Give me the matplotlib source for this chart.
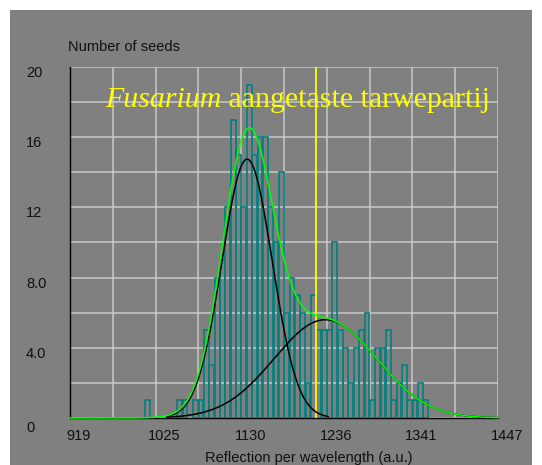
import numpy as np
import matplotlib
matplotlib.use("Agg")
import matplotlib.pyplot as plt
from matplotlib.patches import Rectangle
from matplotlib.transforms import blended_transform_factory, ScaledTranslation

# ---------------- data ----------------
x_min, x_max = 919, 1447
n_bins = 80
# counts per bin (bin index -> count)
bin_index = [14, 20, 21, 23, 24, 25, 26, 27, 28, 29, 30, 31, 32, 33, 34, 35, 36,
             37, 38, 39, 40, 41, 42, 43, 44, 45, 46, 47, 48, 49, 50, 51, 52, 53,
             54, 55, 56, 57, 58, 59, 60, 61, 62, 63, 64, 65, 66]
bin_count = [1, 1, 1, 1, 1, 5, 3, 8, 9, 12, 17, 15, 12, 19, 15, 16, 16,
             12, 10, 14, 6, 8, 7, 6, 2, 7, 5, 5, 5, 10, 5, 4, 2, 4,
             5, 6, 1, 4, 4, 5, 1, 2, 3, 1, 1, 2, 1]

# two fitted gaussian components
fit_amplitude = [14.75, 5.6]
fit_mean = [1137.5, 1234.0]
fit_sigma = [31.0, 63.0]
fit_start = [1038.0, 1038.0]
fit_end = [1238.0, 1447.0]

marker_x = 1222.5

x_tick_values = [919, 1024.6, 1130.2, 1235.8, 1341.4, 1447]
x_tick_labels = ["919", "1025", "1130", "1236", "1341", "1447"]
y_tick_values = [0, 4, 8, 12, 16, 20]
y_tick_labels = ["0", "4.0", "8.0", "12", "16", "20"]

title_italic = "Fusarium"
title_rest = " aangetaste tarwepartij"
y_title = "Number of seeds"
x_title = "Reflection per wavelength (a.u.)"

# ---------------- figure ----------------
W, H = 542, 465
DPI = 100
fig = plt.figure(figsize=(W / DPI, H / DPI), dpi=DPI, facecolor="white")
gray = "#808080"
fig.patches.append(Rectangle((10 / W, 0), (W - 20) / W, (H - 10) / H,
                             transform=fig.transFigure, facecolor=gray,
                             edgecolor="none", zorder=-10))

left, right, top, bottom = 70, 498, 67, 418
ax = fig.add_axes([left / W, 1 - bottom / H, (right - left) / W, (bottom - top) / H])
ax.set_facecolor(gray)
ax.set_xlim(x_min, x_max)
ax.set_ylim(0, 20)

bw = (x_max - x_min) / n_bins
ax.set_xticks(np.linspace(x_min, x_max, 11))
ax.set_yticks(np.arange(0, 21, 2))
ax.tick_params(length=0, labelbottom=False, labelleft=False)
ax.grid(True, color="#c8c8c8", linewidth=1.1)
ax.set_axisbelow(True)
for s in ["top", "right"]:
    ax.spines[s].set_visible(False)
for s in ["left", "bottom"]:
    ax.spines[s].set_color("black")
    ax.spines[s].set_linewidth(1.0)
    ax.spines[s].set_zorder(1.5)

# bars
lefts = [x_min + i * bw for i in bin_index]
ax.bar([l + bw * 0.05 for l in lefts], bin_count, width=bw * 0.9, align="edge",
       fill=False, edgecolor="#008080", linewidth=1.2, zorder=2)

# yellow marker line
ax.axvline(marker_x, color="#ffff00", linewidth=1.3, zorder=3)

# fitted curves
xs_full = np.linspace(x_min, x_max, 800)
total = np.zeros_like(xs_full)
for A, m, s, a, b in zip(fit_amplitude, fit_mean, fit_sigma, fit_start, fit_end):
    y = A * np.exp(-0.5 * ((xs_full - m) / s) ** 2)
    total += y
    sel = (xs_full >= a) & (xs_full <= b)
    ax.plot(xs_full[sel], y[sel], color="black", linewidth=1.1, zorder=4, clip_on=False)
ax.plot(xs_full, total, color="#00ff00", linewidth=1.1, zorder=5, clip_on=False)

# tick labels (offset like the original)
tfont = dict(family="Liberation Sans", fontsize=10.5, color="#101010")
ty = blended_transform_factory(fig.transFigure, ax.transData)
for v, lab in zip(y_tick_values, y_tick_labels):
    off = -10 if v == 0 else -6
    ax.text(26 / W, v, lab, transform=ty + ScaledTranslation(0, off / DPI, fig.dpi_scale_trans),
            ha="left", va="center", **tfont)
tx = blended_transform_factory(ax.transData, fig.transFigure)
for v, lab in zip(x_tick_values, x_tick_labels):
    ax.text(v, 1 - 435.5 / H, lab, transform=tx + ScaledTranslation(9 / DPI, 0, fig.dpi_scale_trans),
            ha="center", va="center", **tfont)

fig.text(68 / W, 1 - 47 / H, y_title, ha="left", va="center", **tfont)
fig.text(309 / W, 1 - 458 / H, x_title, ha="center", va="center", **tfont)

# title
t1 = fig.text(105 / W, 1 - 107 / H, title_italic, ha="left", va="baseline",
              family="Liberation Serif", style="italic", fontsize=21.5, color="#ffff00", zorder=10)
fig.canvas.draw()
bb = t1.get_window_extent(fig.canvas.get_renderer())
fig.text(bb.x1 / W, 1 - 107 / H, title_rest, ha="left", va="baseline",
         family="Liberation Serif", fontsize=21.5, color="#ffff00", zorder=10)

fig.savefig("out.png", dpi=DPI, facecolor="white")
